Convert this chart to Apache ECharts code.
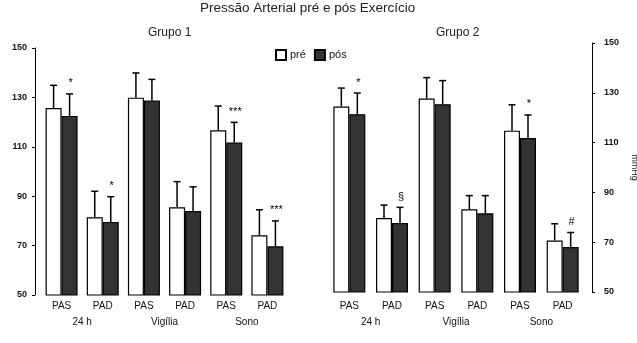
<!DOCTYPE html>
<html style="height: 100%">
    <head>
        <meta charset="utf-8">
    </head>
    <body style="height: 100%; margin: 0">
        <div id="container" style="width:637px;height:343px"></div>
        <script type="text/javascript" src="https://cdn.jsdelivr.net/npm/echarts@6/dist/echarts.min.js"></script>
        <script type="text/javascript">
// categorias
var categories = ['PAS', 'PAD', 'PAS', 'PAD', 'PAS', 'PAD'];
var periods = ['24 h', 'Vigília', 'Sono'];
var yTicks = [50, 70, 90, 110, 130, 150];

// Grupo 1 (media e desvio)
var g1Pre = [125.7, 81.5, 129.9, 85.5, 116.7, 74.2];
var g1PreSd = [9.2, 10.5, 10.0, 10.4, 9.8, 10.3];
var g1Pos = [122.5, 79.6, 128.7, 84.0, 111.7, 69.7];
var g1PosSd = [8.9, 10.2, 8.6, 9.8, 8.2, 10.3];
var g1Marks = ['*', '*', '', '', '***', '***'];

// Grupo 2
var g2Pre = [124.5, 79.7, 127.7, 83.2, 114.8, 70.7];
var g2PreSd = [7.4, 5.2, 8.4, 5.5, 10.4, 6.7];
var g2Pos = [121.4, 77.7, 125.4, 81.6, 111.8, 68.1];
var g2PosSd = [8.5, 6.3, 9.5, 7.1, 9.3, 5.8];
var g2Marks = ['*', '§', '', '', '*', '#'];

var FONT = 'Liberation Sans';
var BAR_W = 16;

var dom = document.getElementById("container");
var myChart = echarts.init(dom);

function errData(vals, sds) {
    return vals.map(function (v, i) { return [i, v, sds[i]]; });
}

// desenha a barra de erro (so para cima) e a marca de significancia
function errRender(shift, marks) {
    return function (params, api) {
        var idx = api.value(0);
        var top = api.coord([idx, api.value(1)]);
        var end = api.coord([idx, api.value(1) + api.value(2)]);
        var x = top[0] + shift;
        var children = [
            { type: 'line', shape: { x1: x, y1: top[1], x2: x, y2: end[1] }, style: { stroke: '#000', lineWidth: 1.5 } },
            { type: 'line', shape: { x1: x - 3.5, y1: end[1], x2: x + 3.5, y2: end[1] }, style: { stroke: '#000', lineWidth: 1.5 } }
        ];
        var m = marks ? marks[params.dataIndex] : '';
        if (m) {
            children.push({
                type: 'text',
                style: { text: m, x: x + 1, y: end[1] - 5, align: 'center', verticalAlign: 'bottom', font: '11px "' + FONT + '"', fill: '#000' }
            });
        }
        return { type: 'group', children: children };
    };
}

function yAxis(grid, pos, offset, gap, rot) {
    return {
        type: 'value', gridIndex: grid, position: pos, offset: offset,
        min: 50, max: 150, interval: 20,
        name: 'mmHg', nameLocation: 'middle', nameGap: gap, nameRotate: rot,
        nameTextStyle: { fontFamily: FONT, fontSize: 9, color: '#222' },
        axisLine: { show: true, lineStyle: { color: '#000', width: 1 } },
        axisTick: { show: true, length: 3, lineStyle: { color: '#000' } },
        axisLabel: { fontFamily: FONT, fontSize: 9, fontWeight: 'bold', color: '#111', margin: pos === 'left' ? 8 : 12 },
        splitLine: { show: false }
    };
}

function xCat(grid, data, offset, margin) {
    return {
        type: 'category', gridIndex: grid, data: data, position: 'bottom', offset: offset,
        axisLine: { show: false }, axisTick: { show: false },
        axisLabel: { fontFamily: FONT, fontSize: 10, color: '#111', margin: margin, interval: 0 }
    };
}

var option = {
    animation: false,
    backgroundColor: '#fff',
    title: [
        { text: 'Pressão Arterial pré e pós Exercício', left: 200, top: 1, padding: 0, textStyle: { fontFamily: FONT, fontSize: 13.5, fontWeight: 'normal', color: '#222' } },
        { text: 'Grupo 1', left: 148, top: 27, padding: 0, textStyle: { fontFamily: FONT, fontSize: 12, fontWeight: 'normal', color: '#222' } },
        { text: 'Grupo 2', left: 436, top: 27, padding: 0, textStyle: { fontFamily: FONT, fontSize: 12, fontWeight: 'normal', color: '#222' } }
    ],
    legend: {
        left: 275, top: 49, padding: 0, itemWidth: 10, itemHeight: 10, itemGap: 8, icon: 'rect',
        textStyle: { fontFamily: FONT, fontSize: 11, color: '#111', padding: [0, 0, 0, -1] },
        data: ['pré', 'pós']
    },
    grid: [
        { left: 41, right: 349, top: 48, bottom: 48, outerBoundsMode: 'none' },
        { left: 328, right: 53, top: 43, bottom: 51, outerBoundsMode: 'none' }
    ],
    xAxis: [
        xCat(0, categories, 0, 6),
        xCat(0, periods, 16, 6),
        xCat(1, categories, 0, 9),
        xCat(1, periods, 16, 9)
    ],
    yAxis: [
        yAxis(0, 'left', 6, 38, 90),
        yAxis(1, 'right', 8, 38, -90)
    ],
    series: [
        { name: 'pré', type: 'bar', xAxisIndex: 0, yAxisIndex: 0, data: g1Pre, barWidth: BAR_W, barGap: 0,
          itemStyle: { color: '#fff', borderColor: '#000', borderWidth: 1.2 } },
        { name: 'pós', type: 'bar', xAxisIndex: 0, yAxisIndex: 0, data: g1Pos, barWidth: BAR_W, barGap: 0,
          itemStyle: { color: '#333', borderColor: '#000', borderWidth: 1.2 } },
        { name: 'pré', type: 'bar', xAxisIndex: 2, yAxisIndex: 1, data: g2Pre, barWidth: BAR_W, barGap: 0,
          itemStyle: { color: '#fff', borderColor: '#000', borderWidth: 1.2 } },
        { name: 'pós', type: 'bar', xAxisIndex: 2, yAxisIndex: 1, data: g2Pos, barWidth: BAR_W, barGap: 0,
          itemStyle: { color: '#333', borderColor: '#000', borderWidth: 1.2 } },
        { type: 'custom', xAxisIndex: 0, yAxisIndex: 0, data: errData(g1Pre, g1PreSd), renderItem: errRender(-BAR_W / 2, null), z: 3 },
        { type: 'custom', xAxisIndex: 0, yAxisIndex: 0, data: errData(g1Pos, g1PosSd), renderItem: errRender(BAR_W / 2, g1Marks), z: 3 },
        { type: 'custom', xAxisIndex: 2, yAxisIndex: 1, data: errData(g2Pre, g2PreSd), renderItem: errRender(-BAR_W / 2, null), z: 3 },
        { type: 'custom', xAxisIndex: 2, yAxisIndex: 1, data: errData(g2Pos, g2PosSd), renderItem: errRender(BAR_W / 2, g2Marks), z: 3 }
    ]
};

myChart.setOption(option);
        </script>
    </body>
</html>
